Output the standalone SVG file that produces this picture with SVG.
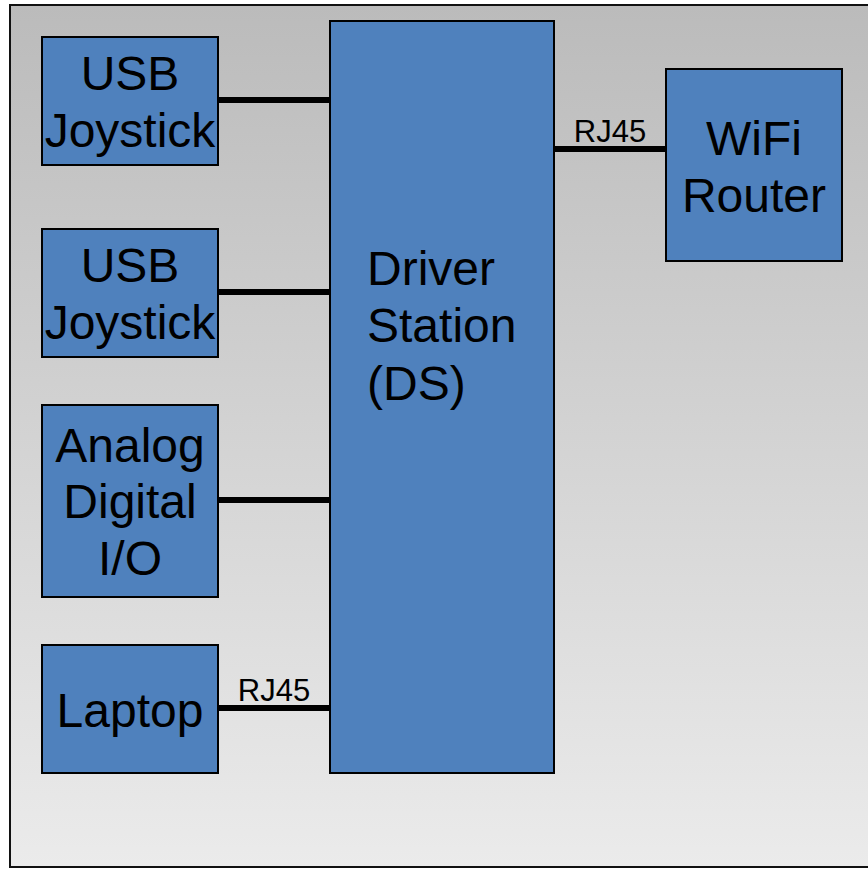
<svg xmlns="http://www.w3.org/2000/svg" width="868" height="869" viewBox="0 0 868 869">
  <style>
    .box { fill: #4f81bd; stroke: #000; stroke-width: 2; }
    .lbl { font-family: "Liberation Sans", Arial, sans-serif; font-size: 48px; fill: #000; }
    .mid { text-anchor: middle; }
    .small { font-family: "Liberation Sans", Arial, sans-serif; font-size: 31px; fill: #000; text-anchor: middle; }
    .wire { stroke: #000; stroke-width: 6; fill: none; }
  </style>
  <defs>
    <linearGradient id="bg" x1="0" y1="0" x2="0" y2="1">
      <stop offset="0" stop-color="#bbbbbb"/>
      <stop offset="1" stop-color="#ebebeb"/>
    </linearGradient>
  </defs>
  <rect x="0" y="0" width="868" height="869" fill="#ffffff"/>
  <rect x="10" y="5" width="870" height="862" fill="url(#bg)" stroke="#111" stroke-width="2"/>

  <g id="connectors">
    <line class="wire" x1="218" y1="100" x2="330" y2="100"/>
    <line class="wire" x1="218" y1="292" x2="330" y2="292"/>
    <line class="wire" x1="218" y1="500" x2="330" y2="500"/>
    <line class="wire" x1="218" y1="708" x2="330" y2="708"/>
    <text class="small" x="274" y="701">RJ45</text>
    <line class="wire" x1="554" y1="149" x2="666" y2="149"/>
    <text class="small" x="610" y="142">RJ45</text>
  </g>

  <g id="usb-joystick-1">
    <rect class="box" x="42" y="37" width="176" height="128"/>
    <text class="lbl mid" x="130" y="90">USB</text>
    <text class="lbl mid" x="130" y="147">Joystick</text>
  </g>
  <g id="usb-joystick-2">
    <rect class="box" x="42" y="229" width="176" height="128"/>
    <text class="lbl mid" x="130" y="282">USB</text>
    <text class="lbl mid" x="130" y="339">Joystick</text>
  </g>
  <g id="analog-digital-io">
    <rect class="box" x="42" y="405" width="176" height="192"/>
    <text class="lbl mid" x="130" y="462">Analog</text>
    <text class="lbl mid" x="130" y="518">Digital</text>
    <text class="lbl mid" x="130" y="575">I/O</text>
  </g>
  <g id="laptop">
    <rect class="box" x="42" y="645" width="176" height="128"/>
    <text class="lbl mid" x="130" y="727">Laptop</text>
  </g>
  <g id="driver-station">
    <rect class="box" x="330" y="21" width="224" height="752"/>
    <text class="lbl" x="367" y="285">Driver</text>
    <text class="lbl" x="367" y="342">Station</text>
    <text class="lbl" x="367" y="400">(DS)</text>
  </g>
  <g id="wifi-router">
    <rect class="box" x="666" y="69" width="176" height="192"/>
    <text class="lbl mid" x="754" y="155">WiFi</text>
    <text class="lbl mid" x="754" y="212">Router</text>
  </g>
</svg>
